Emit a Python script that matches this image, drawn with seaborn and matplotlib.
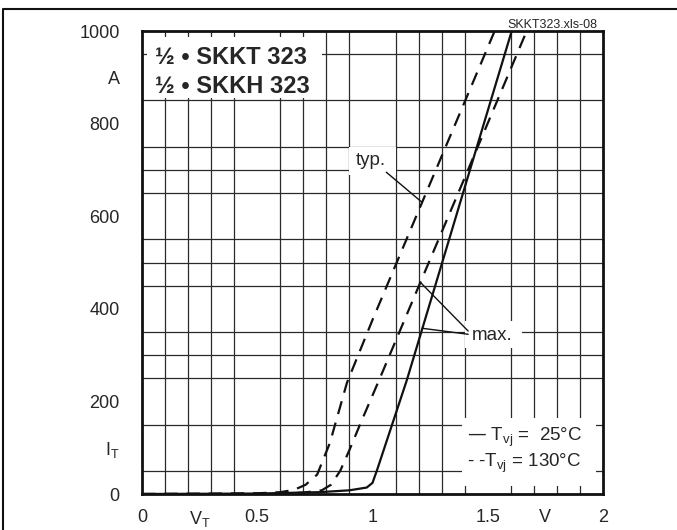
import matplotlib
matplotlib.use("Agg")
import matplotlib.pyplot as plt
import seaborn as sns
from matplotlib.lines import Line2D
from matplotlib.patches import Rectangle

# on-state characteristics
v_typ_130 = [0.0, 0.3, 0.5, 0.6, 0.66, 0.71, 0.76, 0.815, 0.889, 1.0, 1.2, 1.4, 1.53]
i_typ_130 = [0, 0.5, 1.5, 4, 9, 20, 42, 110, 240, 376, 612, 847, 1000]

v_max_130 = [0.0, 0.4, 0.6, 0.7, 0.78, 0.82, 0.86, 0.9, 0.95, 1.032, 1.2, 1.4, 1.669]
i_max_130 = [0, 0.5, 1, 3, 8, 20, 50, 95, 155, 250, 448, 683, 1000]

v_25 = [0.0, 0.5, 0.77, 0.9, 0.975, 1.0, 1.02, 1.149, 1.3, 1.45, 1.604]
i_25 = [0, 1, 4, 8, 14, 24, 52, 246, 496, 745, 1000]

x_ticks = [0, 0.25, 0.5, 1, 1.5, 1.75, 2]
x_labels = ["0", "V$_\\mathregular{T}$", "0.5", "1", "1.5", "V", "2"]
y_ticks = [0, 100, 200, 400, 600, 800, 900, 1000]
y_labels = ["0", "I$_\\mathregular{T}$", "200", "400", "600", "800", "A", "1000"]

sns.set_style("white")
plt.rcParams["font.family"] = ["Liberation Sans", "DejaVu Sans"]
plt.rcParams["mathtext.default"] = "regular"

fig = plt.figure(figsize=(6.77, 5.30), dpi=100)
ax = fig.add_axes([0.2097, 0.0679, 0.681, 0.8736])

ax.set_xlim(0, 2)
ax.set_ylim(0, 1000)
ax.set_xticks([i * 0.1 for i in range(21)], minor=True)
ax.set_yticks([i * 50 for i in range(21)], minor=True)
ax.grid(which="minor", color="#2a2a2a", linewidth=0.9, zorder=0)
ax.set_axisbelow(True)
ax.set_xticks(x_ticks, x_labels, fontsize=13)
ax.set_yticks(y_ticks, y_labels, fontsize=13)
ax.tick_params(which="both", length=0)
ax.tick_params(axis="y", pad=16)
ax.tick_params(axis="x", pad=11)
for sp in ax.spines.values():
    sp.set_linewidth(2)
    sp.set_color("#111111")

sns.lineplot(x=v_typ_130, y=i_typ_130, ax=ax, color="#111111", linewidth=1.6,
             linestyle=(0, (6, 4)), zorder=3)
sns.lineplot(x=v_max_130, y=i_max_130, ax=ax, color="#111111", linewidth=1.6,
             linestyle=(0, (6, 4)), zorder=3)
sns.lineplot(x=v_25, y=i_25, ax=ax, color="#111111", linewidth=1.6, zorder=3)

# white boxes that hide the grid behind the labels
for (x0, y0, w, h) in [(0.02, 855, 0.76, 132), (1.39, 18, 0.58, 147),
                       (0.9, 690, 0.2, 60), (1.4, 315, 0.25, 58)]:
    ax.add_patch(Rectangle((x0, y0), w, h, facecolor="white", edgecolor="none", zorder=2))

ax.text(0.055, 942, "½ • SKKT 323", fontsize=17, fontweight="bold", va="center", zorder=4)
ax.text(0.055, 881, "½ • SKKH 323", fontsize=17, fontweight="bold", va="center", zorder=4)

ax.text(1.41, 123, "— T$_{vj}$ =  25°C", fontsize=13.5, va="center", zorder=4)
ax.text(1.41, 67, "- -T$_{vj}$ = 130°C", fontsize=13.5, va="center", zorder=4)

ax.text(0.993, 721, "typ.", fontsize=13.5, va="center", ha="center", zorder=4)
ax.plot([1.06, 1.215], [695, 630], color="#111111", linewidth=1, zorder=4)
ax.text(1.52, 343, "max.", fontsize=13.5, va="center", ha="center", zorder=4)
ax.plot([1.415, 1.21], [352, 456], color="#111111", linewidth=1, zorder=4)
ax.plot([1.415, 1.215], [345, 358], color="#111111", linewidth=1, zorder=4)

ax.set_xlabel("")
ax.set_ylabel("")

fig.text(0.882, 0.952, "SKKT323.xls-08", fontsize=9, ha="right", va="center")

# outer frame of the datasheet page
fig.add_artist(Line2D([3 / 677, 3 / 677, 1.0], [0.0, 1 - 9 / 530, 1 - 9 / 530],
                      color="#111111", linewidth=1.5))

fig.savefig("out.png", dpi=100)
